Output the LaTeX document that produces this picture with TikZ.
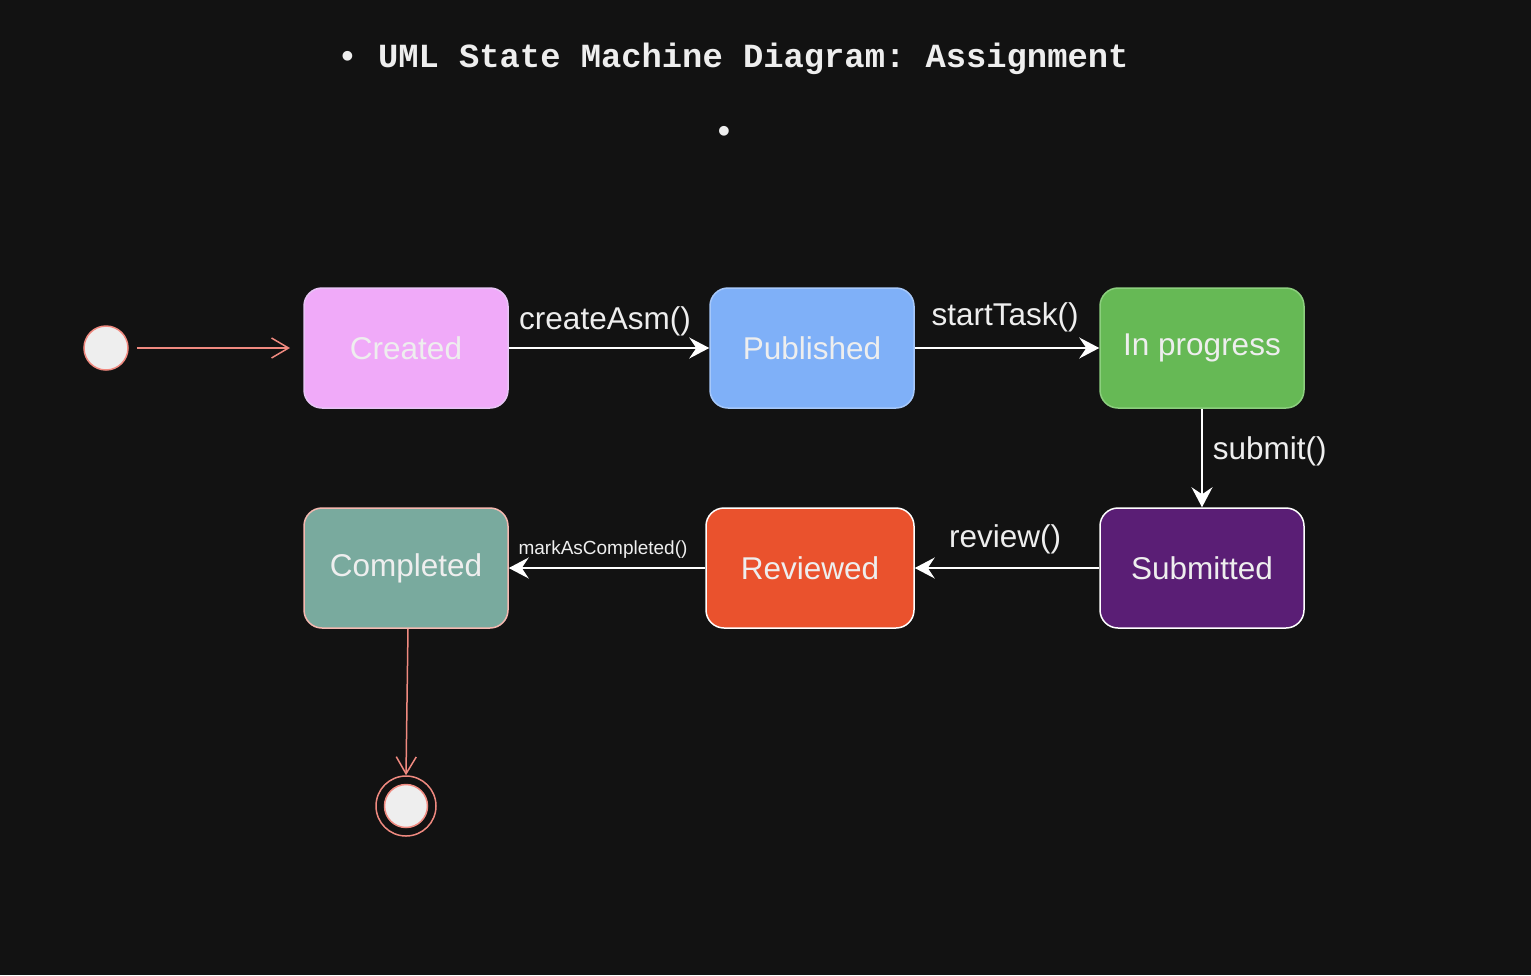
\documentclass[tikz,border=0pt]{standalone}
\usepackage{fontspec}
\setmainfont{Liberation Sans}
\newfontfamily\monof{Liberation Mono}
\usetikzlibrary{arrows.meta}
\definecolor{bg}{HTML}{121212}
\definecolor{txt}{HTML}{EEEEEE}
\definecolor{salmon}{HTML}{F08A80}
\definecolor{crF}{HTML}{F0AAF9}\definecolor{crD}{HTML}{E8C4F5}
\definecolor{puF}{HTML}{7FB0F8}\definecolor{puD}{HTML}{A6C8FA}
\definecolor{ipF}{HTML}{66B955}\definecolor{ipD}{HTML}{8CCF7E}
\definecolor{suF}{HTML}{5A1E75}
\definecolor{reF}{HTML}{EA522D}
\definecolor{coF}{HTML}{79AA9E}\definecolor{coD}{HTML}{F4B8B0}
\tikzset{
  statebox/.style={rectangle, rounded corners=18pt, minimum width=204pt, minimum height=120pt,
    line width=1.5pt, inner sep=0pt, text=txt, font=\fontsize{31.5}{36}\selectfont},
  flow/.style={draw=white, line width=1.5pt, -{Stealth[length=20pt,width=21pt,inset=7pt]}},
  pinkflow/.style={draw=salmon, line width=1.5pt, -{Straight Barb[length=17pt,width=20pt,line width=1.5pt]}},
  lbl/.style={text=txt, inner sep=0pt, font=\fontsize{31.5}{36}\selectfont},
  smalllbl/.style={text=txt, inner sep=0pt, font=\fontsize{19}{22}\selectfont},
  titlefont/.style={text=txt, inner sep=0pt, font=\monof\bfseries\fontsize{33.8}{40}\selectfont\frenchspacing},
}
\begin{document}
\begin{tikzpicture}[x=1pt,y=-1pt]
\fill[bg] (0,0) rectangle (1531,975);
\useasboundingbox (0,0) rectangle (1531,975);

\node[titlefont] (title) at (733,59) {• UML State Machine Diagram: Assignment};
\node[titlefont] (dot) at (724,134) {•};

\node[statebox, fill=crF, draw=crD] (created) at (406,348) {Created};
\node[statebox, fill=puF, draw=puD] (published) at (812,348) {Published};
\node[statebox, fill=ipF, draw=ipD] (inprog) at (1202,348) {In progress};
\node[statebox, fill=suF, draw=white] (submitted) at (1202,568) {Submitted};
\node[statebox, fill=reF, draw=white, minimum width=208pt] (reviewed) at (810,568) {Reviewed};
\node[statebox, fill=coF, draw=coD] (completed) at (406,568) {Completed};

\node[circle, fill=txt, draw=salmon, line width=1.5pt, minimum size=44pt, inner sep=0pt] (init) at (106,348) {};
\coordinate (initend) at (290,348);

\node[circle, draw=salmon, line width=1.5pt, minimum size=60pt, inner sep=0pt] (final) at (406,806) {};
\node[circle, fill=txt, draw=salmon, line width=1.5pt, minimum size=43pt, inner sep=0pt] (finalin) at (final) {};

\draw[pinkflow, shorten <=8pt] (init) -- (initend);
\draw[pinkflow] ([xshift=2pt]completed.south) -- (final.north);

\draw[flow] (created) -- node[lbl, yshift=27pt, xshift=-4pt] (l1) {createAsm()} (published);
\draw[flow] (published) -- node[lbl, yshift=31pt, xshift=-2pt] (l2) {startTask()} (inprog);
\draw[flow] (inprog) -- node[lbl, anchor=west, xshift=10pt, yshift=7pt] (l3) {submit()} (submitted);
\draw[flow] (submitted) -- node[lbl, yshift=29pt, xshift=-2pt] (l4) {review()} (reviewed);
\draw[flow] (reviewed) -- node[smalllbl, yshift=18pt, xshift=-4pt] (l5) {markAsCompleted()} (completed);
\end{tikzpicture}
\end{document}
